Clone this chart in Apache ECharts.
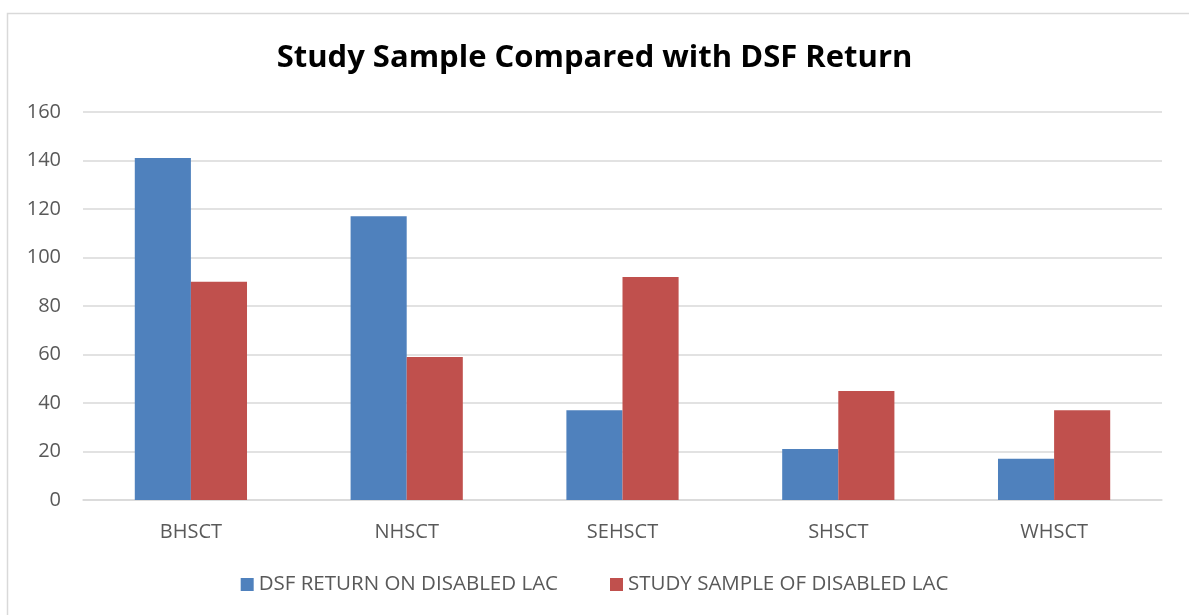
<!DOCTYPE html>
<html><head><meta charset="utf-8">
<script src="https://cdn.jsdelivr.net/npm/echarts@6/dist/echarts.min.js"></script>
<style>html,body{margin:0;padding:0;background:#fff}#c{width:1189px;height:615px}</style>
</head><body><div id="c"></div>
<script>
const categories = ['BHSCT', 'NHSCT', 'SEHSCT', 'SHSCT', 'WHSCT'];
const dsfReturn = [141, 117, 37, 21, 17];
const studySample = [90, 59, 92, 45, 37];
const seriesNames = ['DSF RETURN ON DISABLED LAC', 'STUDY SAMPLE OF DISABLED LAC'];

const chart = echarts.init(document.getElementById('c'));
const font = '"Open Sans", "Noto Sans", sans-serif';
chart.setOption({
  animation: false,
  backgroundColor: '#fff',
  graphic: [{type: 'rect', shape: {x: 7.5, y: 13.5, width: 1300, height: 800}, style: {fill: 'none', stroke: '#d9d9d9', lineWidth: 1.5}, silent: true, z: -1}],
  title: {text: 'Study Sample Compared with DSF Return', left: 'center', top: 38,
    textStyle: {fontFamily: font, fontWeight: 'bold', fontSize: 31, color: '#000'}},
  grid: {left: 83, right: 27, top: 112, bottom: 115},
  legend: {bottom: 15, left: 'center', itemWidth: 13, itemHeight: 13, itemGap: 52, icon: 'rect',
    textStyle: {fontFamily: font, fontSize: 20.5, color: '#595959', padding: [0,0,0,0]},
    data: seriesNames},
  xAxis: {type: 'category', data: categories,
    axisLine: {lineStyle: {color: '#d9d9d9', width: 1.5}}, axisTick: {show: false},
    axisLabel: {fontFamily: font, fontSize: 20, color: '#595959', margin: 22}},
  yAxis: {type: 'value', min: 0, max: 160, interval: 20,
    axisLine: {show: false}, axisTick: {show: false},
    splitLine: {lineStyle: {color: '#d9d9d9', width: 1.5}},
    axisLabel: {fontFamily: font, fontSize: 20, color: '#595959', margin: 22}},
  series: [
    {name: seriesNames[0], type: 'bar', data: dsfReturn, barGap: '0%', barCategoryGap: '48%',
      itemStyle: {color: '#4F81BD'}},
    {name: seriesNames[1], type: 'bar', data: studySample,
      itemStyle: {color: '#C0504D'}}
  ]
});
</script></body></html>
